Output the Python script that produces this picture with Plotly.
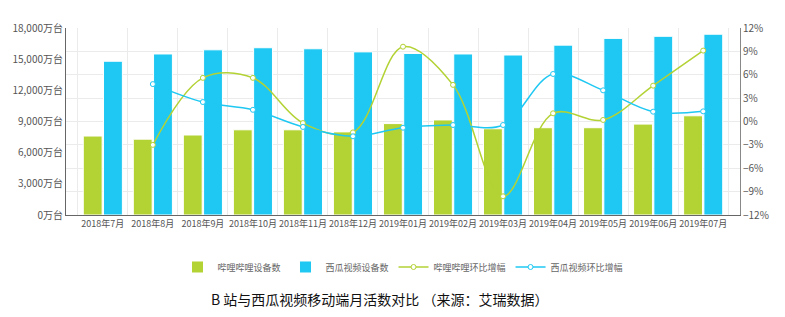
import plotly.graph_objects as go

months = ["2018年7月", "2018年8月", "2018年9月", "2018年10月", "2018年11月", "2018年12月",
          "2019年01月", "2019年02月", "2019年03月", "2019年04月", "2019年05月", "2019年06月", "2019年07月"]
bili_users = [7600, 7300, 7700, 8200, 8200, 8000, 8800, 9150, 8300, 8400, 8400, 8750, 9550]
xigua_users = [14800, 15500, 15900, 16100, 16000, 15700, 15550, 15500, 15400, 16350, 17000, 17200, 17400]
bili_growth = [None, -3.0, 5.6, 5.6, -0.2, -1.4, 9.6, 4.7, -9.6, 1.05, 0.2, 4.6, 9.1]
xigua_growth = [None, 4.8, 2.5, 1.5, -0.7, -1.9, -0.8, -0.45, -0.45, 6.1, 4.0, 1.26, 1.3]

GREEN = "#B3D234"
BLUE = "#1FC8F2"
FONT = "Noto Sans CJK SC"

fig = go.Figure()
fig.add_trace(go.Bar(x=months, y=bili_users, name="哔哩哔哩设备数",
                     marker=dict(color=GREEN, line=dict(color="white", width=1))))
fig.add_trace(go.Bar(x=months, y=xigua_users, name="西瓜视频设备数",
                     marker=dict(color=BLUE, line=dict(color="white", width=1))))
fig.add_trace(go.Scatter(x=months, y=bili_growth, name="哔哩哔哩环比增幅", yaxis="y2",
                         mode="lines+markers", line=dict(color=GREEN, width=1.5, shape="spline", smoothing=1),
                         marker=dict(size=5, color="white", line=dict(color=GREEN, width=1))))
fig.add_trace(go.Scatter(x=months, y=xigua_growth, name="西瓜视频环比增幅", yaxis="y2",
                         mode="lines+markers", line=dict(color=BLUE, width=1.5, shape="spline", smoothing=1),
                         marker=dict(size=5, color="white", line=dict(color=BLUE, width=1))))

fig.update_layout(
    width=785, height=317,
    margin=dict(l=62, r=45, t=28, b=102),
    paper_bgcolor="white", plot_bgcolor="white",
    font=dict(family=FONT, size=10, color="#555"),
    barmode="group", bargap=0.19, bargroupgap=0.07,
    showlegend=True,
    separators=".,",
    legend=dict(orientation="h", x=0.5, xanchor="center", y=-0.278, yanchor="middle",
                font=dict(size=9, color="#666"), itemwidth=30, tracegroupgap=0),
    xaxis=dict(type="category", tickson="boundaries", showgrid=True, gridcolor="#ebebeb",
               showline=True, linecolor="#666", linewidth=1, ticks="", tickangle=0,
               tickfont=dict(size=9, color="#555")),
    yaxis=dict(range=[0, 18000], dtick=3000, tickformat=",d", ticksuffix="万台",
               showgrid=False, zeroline=False, showline=True, linecolor="#666", linewidth=1,
               tickfont=dict(size=10, color="#555")),
    yaxis2=dict(range=[-12, 12], dtick=3, ticksuffix="%", overlaying="y", side="right",
                showgrid=True, gridcolor="#ebebeb", zeroline=False, showline=True,
                linecolor="#888", linewidth=1, tickfont=dict(size=10, color="#555")),
)

fig.add_annotation(text="B 站与西瓜视频移动端月活数对比 （来源：艾瑞数据）",
                   xref="paper", yref="paper", x=(377 - 62) / 678, y=-0.449,
                   xanchor="center", yanchor="middle", showarrow=False,
                   font=dict(family=FONT, size=14, color="#111"))

fig.write_html("out.html")
